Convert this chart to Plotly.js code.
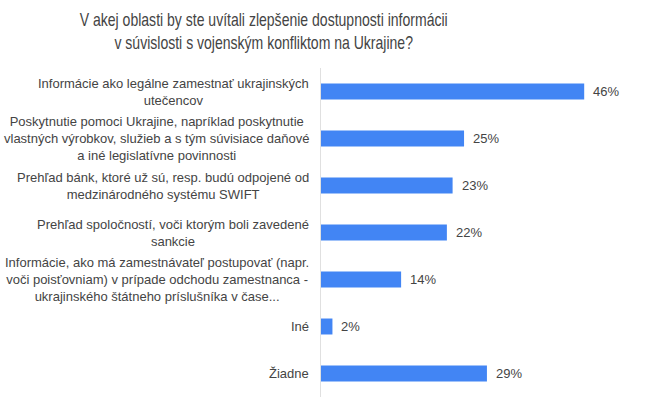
<!DOCTYPE html>
<html>
<head>
<meta charset="utf-8">
<script src="https://cdn.plot.ly/plotly-3.0.1.min.js"></script>
<style>
html,body{margin:0;padding:0;background:#fff;}
#chart{width:656px;height:400px;}
#chart .gtitle{transform-box: fill-box; transform-origin: center; transform: scaleX(0.78);}
</style>
</head>
<body>
<div id="chart"></div>
<script>
var categories = [
  "Informácie ako legálne zamestnať ukrajinských<br>utečencov",
  "Poskytnutie pomoci Ukrajine, napríklad poskytnutie<br>vlastných výrobkov, služieb a s tým súvisiace daňové<br>a iné legislatívne povinnosti",
  "Prehľad bánk, ktoré už sú, resp. budú odpojené od<br>medzinárodného systému SWIFT",
  "Prehľad spoločností, voči ktorým boli zavedené<br>sankcie",
  "Informácie, ako má zamestnávateľ postupovať (napr.<br>voči poisťovniam) v prípade odchodu zamestnanca -<br>ukrajinského štátneho príslušníka v čase...",
  "Iné",
  "Žiadne"
];
var values = [46, 25, 23, 22, 14, 2, 29];
var valueLabels = ["46%", "25%", "23%", "22%", "14%", "2%", "29%"];
var titleText = "V akej oblasti by ste uvítali zlepšenie dostupnosti informácii<br>v súvislosti s vojenským konfliktom na Ukrajine?";

var catIds = categories.map(function(c, i){ return "c" + i; });

var annotations = [];
categories.forEach(function(c, i){
  annotations.push({
    xref: "paper", yref: "y", x: 0, y: catIds[i],
    text: c, showarrow: false, xanchor: "right", yanchor: "middle",
    align: "center", xshift: -10,
    font: {family: "Liberation Sans, Arial, sans-serif", size: 13, color: "#444"}
  });
  annotations.push({
    xref: "x", yref: "y", x: values[i], y: catIds[i],
    text: valueLabels[i], showarrow: false, xanchor: "left", yanchor: "middle",
    xshift: 7,
    font: {family: "Liberation Sans, Arial, sans-serif", size: 13, color: "#444"}
  });
});

var trace = {
  type: "bar",
  orientation: "h",
  x: values,
  y: catIds,
  width: 0.34,
  marker: {color: "#4285F4"},
  hoverinfo: "none"
};

var layout = {
  width: 656, height: 400,
  margin: {l: 321, r: 10, t: 68, b: 3},
  paper_bgcolor: "#fff", plot_bgcolor: "#fff",
  showlegend: false,
  title: {
    text: titleText,
    xref: "container", x: 0.402, xanchor: "center",
    yref: "container", y: 0.935, yanchor: "top",
    font: {family: "Liberation Sans, Arial, sans-serif", size: 18, color: "#444"}
  },
  xaxis: {range: [0, 56.8], showgrid: false, zeroline: false, showticklabels: false, showline: false, fixedrange: true},
  yaxis: {autorange: "reversed", showticklabels: false, showgrid: false, zeroline: false,
          showline: true, linecolor: "#e0e0e0", linewidth: 1, ticks: "", fixedrange: true},
  annotations: annotations
};

Plotly.newPlot("chart", [trace], layout, {displayModeBar: false, staticPlot: true});
</script>
</body>
</html>
